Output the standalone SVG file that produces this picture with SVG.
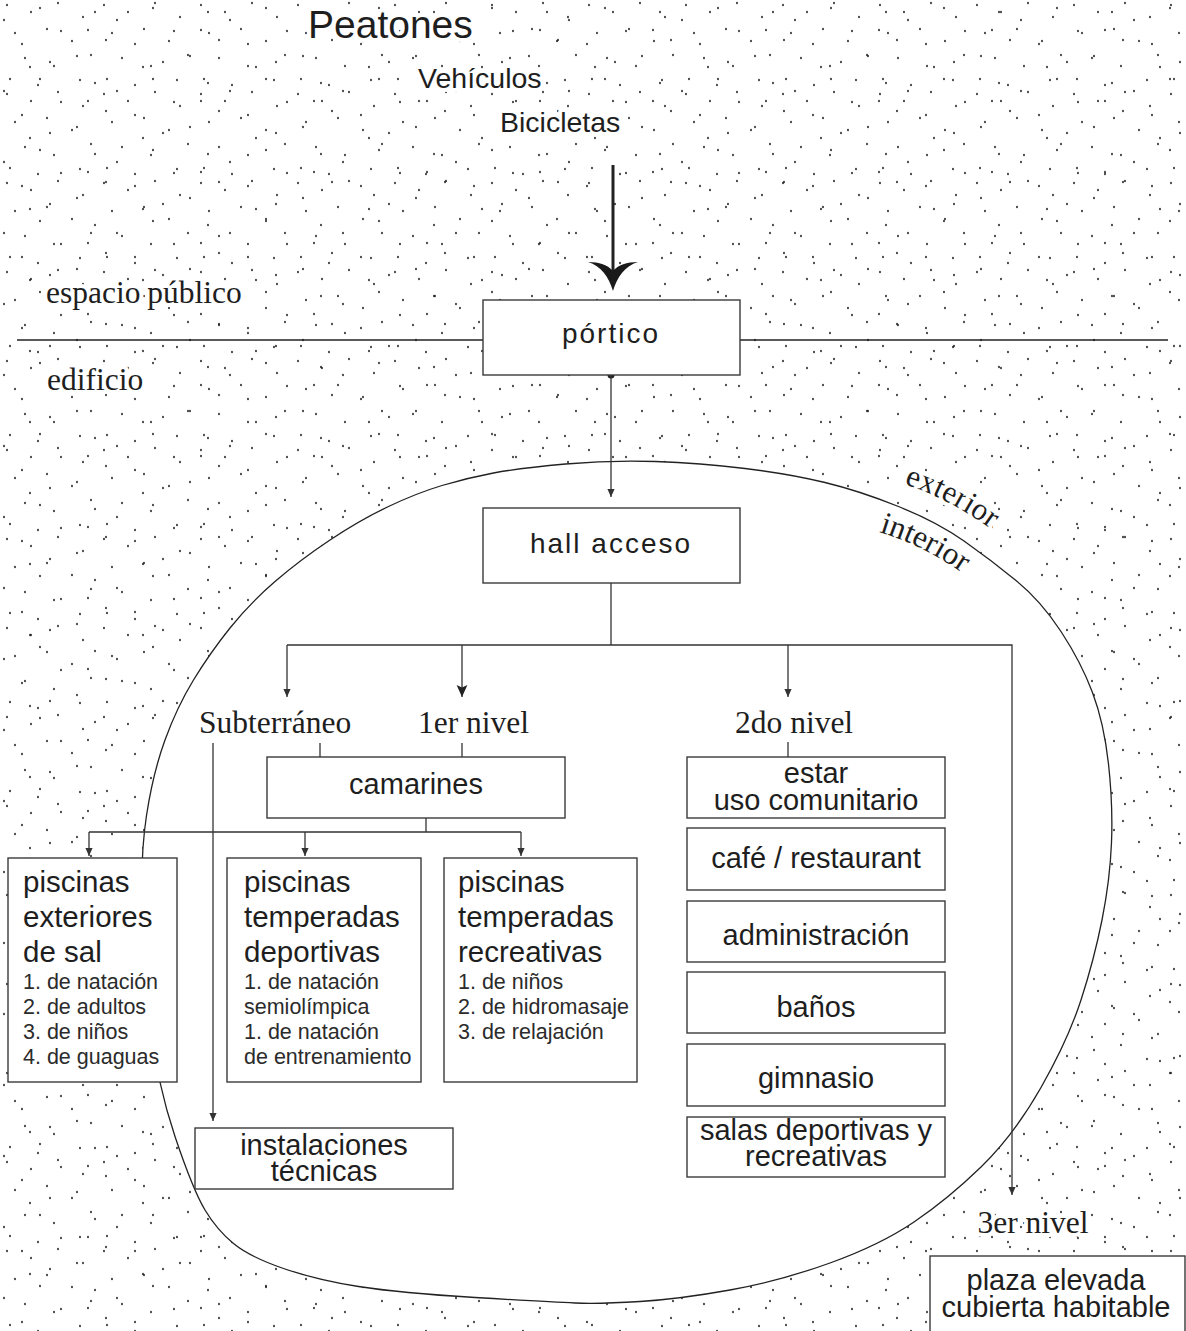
<svg xmlns="http://www.w3.org/2000/svg" width="1186" height="1331" viewBox="0 0 1186 1331">
<defs>
<style>
.sans{font-family:"Liberation Sans",Arial,sans-serif;fill:#1e1e1e}
.serif{font-family:"Liberation Serif","Times New Roman",serif;fill:#1e1e1e;font-size:31.5px}
.halo{paint-order:stroke;stroke:#fff;stroke-width:8px;stroke-linejoin:round}
.box{fill:#fff;stroke:#3a3a3a;stroke-width:1.4}
.h{font-size:29.5px}
.s{font-size:21.5px;fill:#2b2b2b}
.m{font-size:29px}
.c{text-anchor:middle}
.ln{fill:none;stroke:#333;stroke-width:1.3}
</style>
<pattern id="dotsA" width="97" height="89" patternUnits="userSpaceOnUse">
<g fill="#1a1a1a">
<ellipse cx="7" cy="5" rx="0.85" ry="1.25"/><ellipse cx="31" cy="12" rx="0.85" ry="1.25"/><ellipse cx="58" cy="3" rx="0.85" ry="1.25"/><ellipse cx="83" cy="17" rx="0.85" ry="1.25"/><ellipse cx="15" cy="33" rx="0.85" ry="1.25"/><ellipse cx="47" cy="29" rx="0.85" ry="1.25"/><ellipse cx="72" cy="41" rx="0.85" ry="1.25"/><ellipse cx="91" cy="55" rx="0.85" ry="1.25"/><ellipse cx="25" cy="58" rx="0.85" ry="1.25"/><ellipse cx="54" cy="66" rx="0.85" ry="1.25"/><ellipse cx="80" cy="80" rx="0.85" ry="1.25"/><ellipse cx="10" cy="79" rx="0.85" ry="1.25"/><ellipse cx="38" cy="85" rx="0.85" ry="1.25"/>
</g>
</pattern>
<pattern id="dotsB" width="113" height="71" patternUnits="userSpaceOnUse">
<g fill="#1a1a1a">
<ellipse cx="4" cy="20" rx="0.85" ry="1.25"/><ellipse cx="22" cy="44" rx="0.85" ry="1.25"/><ellipse cx="40" cy="8" rx="0.85" ry="1.25"/><ellipse cx="61" cy="31" rx="0.85" ry="1.25"/><ellipse cx="77" cy="56" rx="0.85" ry="1.25"/><ellipse cx="95" cy="12" rx="0.85" ry="1.25"/><ellipse cx="106" cy="40" rx="0.85" ry="1.25"/><ellipse cx="50" cy="62" rx="0.85" ry="1.25"/><ellipse cx="30" cy="67" rx="0.85" ry="1.25"/><ellipse cx="88" cy="30" rx="0.85" ry="1.25"/>
</g>
</pattern>
<marker id="ah" viewBox="0 0 10 10" refX="10" refY="5" markerWidth="9" markerHeight="8" orient="auto" markerUnits="userSpaceOnUse">
<path d="M0,0.5 L10,5 L0,9.5 Z" fill="#333"/>
</marker>
<marker id="ahL" viewBox="0 0 10 10" refX="10" refY="5" markerWidth="12" markerHeight="12" orient="auto" markerUnits="userSpaceOnUse">
<path d="M0,0.5 L10,5 L0,9.5 L2,5 Z" fill="#222"/>
</marker>
</defs>

<rect width="1186" height="1331" fill="#fff"/>
<rect width="1186" height="1331" fill="url(#dotsA)"/>
<rect width="1186" height="1331" fill="url(#dotsB)"/>

<g id="zona-interior">
<path d="M 565.5 464 Q 611 460 655.5 461.5 Q 700 463 745 468.5 Q 790 474 825 482.5 Q 860 491 898.5 506.5 Q 937 522 964 541 Q 991 560 1016 580.5 Q 1041 601 1061 631.5 Q 1081 662 1092.5 692.5 Q 1104 723 1108.5 764 Q 1113 805 1111.5 842.5 Q 1110 880 1102 920 Q 1094 960 1081 1000 Q 1068 1040 1041 1087.5 Q 1014 1135 981 1167 Q 948 1199 914 1222 Q 880 1245 830 1263 Q 780 1281 730 1290 Q 680 1299 640 1301.5 Q 600 1304 575 1303 Q 550 1302 475 1297.5 Q 400 1293 358.5 1286.5 Q 317 1280 283.5 1268.5 Q 250 1257 233.5 1243.5 Q 217 1230 205 1210 Q 193 1190 175 1136.5 Q 157 1083 151 1026.5 Q 145 970 142.5 914 Q 140 858 146.5 815.5 Q 153 773 165 740 Q 177 707 193.5 680 Q 210 653 230 628 Q 250 603 275 581.5 Q 300 560 330 540 Q 360 520 388.5 506.5 Q 417 493 442 485.5 Q 467 478 493.5 473 Q 520 468 565.5 464 Z" fill="#fff" stroke="#222" stroke-width="1.3"/>
</g>

<g id="limite-espacio-publico">
<line x1="17" y1="340" x2="1168" y2="340" stroke="#222" stroke-width="1.4"/>
</g>

<g id="connectors">
<line x1="613" y1="165" x2="613" y2="276" stroke="#222" stroke-width="3"/>
<path d="M 588 262 C 601 266, 609 277, 613 291 C 617 277, 625 266, 638 262 C 627 262, 618 265, 613 271 C 608 265, 599 262, 588 262 Z" fill="#1a1a1a"/>
<circle cx="611" cy="375" r="3.5" fill="#222"/>
<path class="ln" d="M611 375 V497" marker-end="url(#ah)"/>
<path class="ln" d="M611 583 V645"/>
<path class="ln" d="M287 645 H1012 V1195" marker-end="url(#ah)"/>
<path class="ln" d="M287 645 V697" marker-end="url(#ah)"/>
<path class="ln" d="M462 645 V697" marker-end="url(#ahL)"/>
<path class="ln" d="M788 645 V697" marker-end="url(#ah)"/>
<path class="ln" d="M320 743 V757"/>
<path class="ln" d="M462 743 V757"/>
<path class="ln" d="M788 742 V757"/>
<path class="ln" d="M213 743 V1121" marker-end="url(#ah)"/>
<path class="ln" d="M426 818 V832 M89 832 H521"/>
<path class="ln" d="M89 832 V856" marker-end="url(#ah)"/>
<path class="ln" d="M305 832 V856" marker-end="url(#ah)"/>
<path class="ln" d="M521 832 V856" marker-end="url(#ah)"/>
</g>

<g id="origen">
<text class="sans halo" x="308" y="38" font-size="39">Peatones</text>
<text class="sans halo" x="418" y="88" font-size="28.5">Vehículos</text>
<text class="sans halo" x="500" y="132" font-size="28.5">Bicicletas</text>
</g>

<g id="etiquetas-zonas">
<text class="serif halo" x="46" y="303" word-spacing="-1">espacio público</text>
<text class="serif halo" x="47" y="390">edificio</text>
<path id="pExt" d="M 904 484 Q 957 501 1008 542" fill="none"/>
<path id="pInt" d="M 879 532 Q 936 549 990 594" fill="none"/>
<text class="serif halo" font-size="31"><textPath href="#pExt">exterior</textPath></text>
<text class="serif" font-size="31"><textPath href="#pInt">interior</textPath></text>
</g>

<g id="portico">
<rect class="box" x="483" y="300" width="257" height="75"/>
<text class="sans c" x="611" y="343" font-size="28" letter-spacing="2">pórtico</text>
</g>

<g id="hall-acceso">
<rect class="box" x="483" y="508" width="257" height="75"/>
<text class="sans c" x="611" y="553" font-size="28" letter-spacing="2">hall acceso</text>
</g>

<g id="niveles">
<text class="serif" x="199" y="733">Subterráneo</text>
<text class="serif" x="418" y="733">1er nivel</text>
<text class="serif" x="735" y="733">2do nivel</text>
<text class="serif halo c" x="1033" y="1233">3er nivel</text>
</g>

<g id="camarines">
<rect class="box" x="267" y="757" width="298" height="61"/>
<text class="sans m c" x="416" y="794">camarines</text>
</g>

<g id="piscinas-exteriores">
<rect class="box" x="8" y="858" width="169" height="224"/>
<text class="sans h" x="23" y="892">piscinas</text>
<text class="sans h" x="23" y="927">exteriores</text>
<text class="sans h" x="23" y="962">de sal</text>
<text class="sans s" x="23" y="989">1. de natación</text>
<text class="sans s" x="23" y="1014">2. de adultos</text>
<text class="sans s" x="23" y="1039">3. de niños</text>
<text class="sans s" x="23" y="1064">4. de guaguas</text>
</g>

<g id="piscinas-deportivas">
<rect class="box" x="227" y="858" width="194" height="224"/>
<text class="sans h" x="244" y="892">piscinas</text>
<text class="sans h" x="244" y="927">temperadas</text>
<text class="sans h" x="244" y="962">deportivas</text>
<text class="sans s" x="244" y="989">1. de natación</text>
<text class="sans s" x="244" y="1014">semiolímpica</text>
<text class="sans s" x="244" y="1039">1. de natación</text>
<text class="sans s" x="244" y="1064">de entrenamiento</text>
</g>

<g id="piscinas-recreativas">
<rect class="box" x="444" y="858" width="193" height="224"/>
<text class="sans h" x="458" y="892">piscinas</text>
<text class="sans h" x="458" y="927">temperadas</text>
<text class="sans h" x="458" y="962">recreativas</text>
<text class="sans s" x="458" y="989">1. de niños</text>
<text class="sans s" x="458" y="1014">2. de hidromasaje</text>
<text class="sans s" x="458" y="1039">3. de relajación</text>
</g>

<g id="instalaciones-tecnicas">
<rect class="box" x="195" y="1128" width="258" height="61"/>
<text class="sans m c" x="324" y="1155">instalaciones</text>
<text class="sans m c" x="324" y="1181">técnicas</text>
</g>

<g id="estar">
<rect class="box" x="687" y="757" width="258" height="61"/>
<text class="sans m c" x="816" y="783">estar</text>
<text class="sans m c" x="816" y="810">uso comunitario</text>
</g>
<g id="cafe">
<rect class="box" x="687" y="828" width="258" height="62"/>
<text class="sans m c" x="816" y="868">café / restaurant</text>
</g>
<g id="administracion">
<rect class="box" x="687" y="901" width="258" height="61"/>
<text class="sans m c" x="816" y="945">administración</text>
</g>
<g id="banos">
<rect class="box" x="687" y="972" width="258" height="61"/>
<text class="sans m c" x="816" y="1017">baños</text>
</g>
<g id="gimnasio">
<rect class="box" x="687" y="1044" width="258" height="62"/>
<text class="sans m c" x="816" y="1088">gimnasio</text>
</g>
<g id="salas">
<rect class="box" x="687" y="1117" width="258" height="60"/>
<text class="sans m c" x="816" y="1140">salas deportivas y</text>
<text class="sans m c" x="816" y="1166">recreativas</text>
</g>

<g id="plaza-elevada">
<rect class="box" x="930" y="1256" width="255" height="90"/>
<text class="sans m c" x="1056" y="1290">plaza elevada</text>
<text class="sans m c" x="1056" y="1317">cubierta habitable</text>
</g>
</svg>
